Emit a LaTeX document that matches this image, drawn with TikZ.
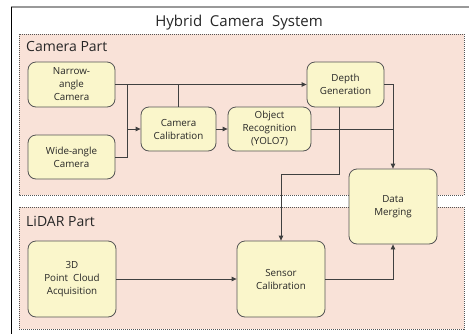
\documentclass[tikz,border=0pt]{standalone}
\usepackage{fontspec}
\setmainfont{Open Sans}
\usetikzlibrary{arrows.meta}
\definecolor{regfill}{HTML}{F9E2D8}
\definecolor{boxfill}{HTML}{FAF6CB}
\definecolor{boxline}{HTML}{555555}
\definecolor{lnc}{HTML}{404040}
\begin{document}
\begin{tikzpicture}[x=1pt,y=-1pt,
  region/.style={draw=boxline,fill=regfill,line width=0.8pt,dash pattern=on 1pt off 1pt},
  blk/.style={draw=boxline,fill=boxfill,line width=0.8pt,rounded corners=8pt,inner sep=0pt,
    align=center,font=\fontsize{9.8}{13}\selectfont,text=black!85},
  conn/.style={draw=lnc,line width=0.8pt},
  arr/.style={conn,-{Triangle[length=5pt,width=4.5pt]}},
  lbl/.style={font=\fontsize{14}{16}\selectfont,text=black!85,inner sep=0pt}]
\useasboundingbox[fill=white] (0,0) rectangle (469,333);
% outer frame
\draw[gray!80,line width=1.6pt] (11,7) -- (470,7);
\draw[black,line width=0.8pt] (11,7) -- (11,334);
\node[lbl,font=\fontsize{15}{17}\selectfont] (title) at (239,23) {Hybrid\ \ Camera\ \ System};
% regions
\path[region] (19,34) rectangle (464,195);
\path[region] (19,207) rectangle (464,329);
\node[lbl,anchor=west] (camlbl) at (26,46) {Camera Part};
\node[lbl,anchor=west] (lidlbl) at (26,221) {LiDAR Part};
% nodes
\node[blk,minimum width=87pt,minimum height=45pt] (narrow) at (71.5,84.5) {Narrow-\\angle\\Camera};
\node[blk,minimum width=87pt,minimum height=44pt] (wide) at (71.5,157) {Wide-angle\\Camera};
\node[blk,minimum width=75pt,minimum height=44pt] (camcal) at (178.5,129) {Camera\\Calibration};
\node[blk,minimum width=83pt,minimum height=44pt] (objrec) at (269.5,129) {Object\\Recognition\\(YOLO7)};
\node[blk,minimum width=77pt,minimum height=45pt] (depth) at (345.5,84.5) {Depth\\Generation};
\node[blk,minimum width=88pt,minimum height=75pt] (merge) at (393,206.5) {Data\\Merging};
\node[blk,minimum width=88pt,minimum height=76pt] (pc) at (72,279) {3D\\Point\ \ Cloud\\Acquisition};
\node[blk,minimum width=88pt,minimum height=76pt] (sens) at (281,279) {Sensor\\Calibration};
% coordinates
\coordinate (j1) at (127,84.5);
\coordinate (j2) at (127,129);
\coordinate (k1) at (339,174);
\coordinate (d1) at (339,107);
% connectors
\draw[arr] (narrow.east) -- (depth.west);
\draw[conn] (wide.east) -| (j1);
\draw[arr] (j2) -- (camcal.west);
\draw[conn] (camcal.north) -- (camcal.north |- narrow.east);
\draw[arr] (camcal.east) -- (objrec.west);
\draw[conn] (objrec.east) -- (objrec.east -| merge.north);
\draw[arr] (depth.east) -| (merge.north);
\draw[arr] (d1) -- (k1) -| (sens.north);
\draw[arr] (pc.east) -- (sens.west);
\draw[arr] (sens.east) -| (merge.south);
\end{tikzpicture}
\end{document}
